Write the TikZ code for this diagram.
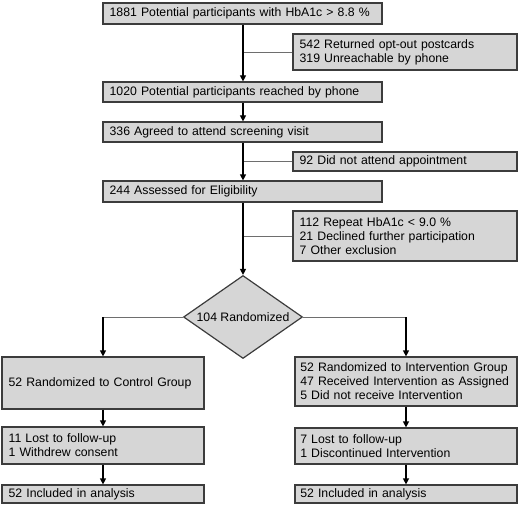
\documentclass[tikz,border=0pt]{standalone}
\usepackage{fontspec}
\setmainfont{Liberation Sans}
\usetikzlibrary{arrows.meta,shapes.geometric}
\definecolor{boxfill}{RGB}{214,214,214}
\definecolor{boxline}{RGB}{60,60,60}
\definecolor{thinline}{RGB}{110,110,110}
\begin{document}
\begin{tikzpicture}[x=0.75pt,y=-0.75pt,
  box/.style={draw=boxline,line width=0.9pt,fill=boxfill,rectangle,inner xsep=5pt,inner ysep=1pt,align=left,
    font=\fontsize{9.2}{10.5}\selectfont},
  mainbox/.style={box,text width=199.25pt},
  sidebox/.style={box,text width=158pt},
  leftbox/.style={box,text width=141.5pt},
  rightbox/.style={box,inner xsep=4pt,text width=158.5pt},
  diam/.style={draw=boxline,line width=0.9pt,fill=boxfill,diamond,aspect=1.45,minimum width=89.25pt,minimum height=62.25pt,inner sep=0pt,
    font=\fontsize{9.2}{10.5}\selectfont},
  arr/.style={draw=black,line width=0.9pt,-{Triangle[length=4.5pt,width=4.5pt]}},
  thin/.style={draw=thinline,line width=0.6pt}]
\useasboundingbox (0,0) rectangle (520,506);
\node[mainbox,minimum height=15.75pt] (b1) at (242.5,13.5) {1881 Potential participants with HbA1c > 8.8 \%};
\node[sidebox,minimum height=27pt] (s1) at (405,52) {542 Returned opt-out postcards\\319 Unreachable by phone};
\node[mainbox,minimum height=15pt] (b2) at (242.5,92) {1020 Potential participants reached by phone};
\node[mainbox,minimum height=15pt] (b3) at (242.5,132) {336 Agreed to attend screening visit};
\node[sidebox,minimum height=14.25pt] (s2) at (405,161.5) {92 Did not attend appointment};
\node[mainbox,minimum height=15.75pt] (b4) at (242.5,191.5) {244 Assessed for Eligibility};
\node[sidebox,minimum height=37.5pt] (s3) at (405,236) {112 Repeat HbA1c < 9.0 \%\\21 Declined further participation\\7 Other exclusion};
\node[diam] (d) at (243,317) {104 Randomized};
\node[leftbox,minimum height=39pt] (l1) at (103,383) {52 Randomized to Control Group};
\node[rightbox,minimum height=36.75pt] (r1) at (406,381.5) {52 Randomized to Intervention Group\\47 Received Intervention as Assigned\\5 Did not receive Intervention};
\node[leftbox,minimum height=27.75pt] (l2) at (103,445.5) {11 Lost to follow-up\\1 Withdrew consent};
\node[rightbox,minimum height=27pt] (r2) at (406,446) {7 Lost to follow-up\\1 Discontinued Intervention};
\node[leftbox,minimum height=13.5pt] (l3) at (103,494) {52 Included in analysis};
\node[rightbox,minimum height=13.5pt] (r3) at (406,494) {52 Included in analysis};
% side connectors
\draw[thin] (s1.west) -- (s1.west -| d.north);
\draw[thin] (s2.west) -- (s2.west -| d.north);
\draw[thin] (s3.west) -- (s3.west -| d.north);
% main flow
\draw[arr] (b1.south -| d.north) -- (b2.north -| d.north);
\draw[arr] (b2.south -| d.north) -- (b3.north -| d.north);
\draw[arr] (b3.south -| d.north) -- (b4.north -| d.north);
\draw[arr] (b4.south -| d.north) -- (d.north);
% branches
\coordinate (lc) at (d.west -| l1.north);
\coordinate (rc) at (d.east -| r1.north);
\draw[thin] (d.west) -- (lc);
\draw[thin] (d.east) -- (rc);
\draw[arr] (lc) -- (l1.north);
\draw[arr] (rc) -- (r1.north);
\draw[arr] (l1) -- (l2);
\draw[arr] (l2) -- (l3);
\draw[arr] (r1) -- (r2);
\draw[arr] (r2) -- (r3);
\end{tikzpicture}
\end{document}
